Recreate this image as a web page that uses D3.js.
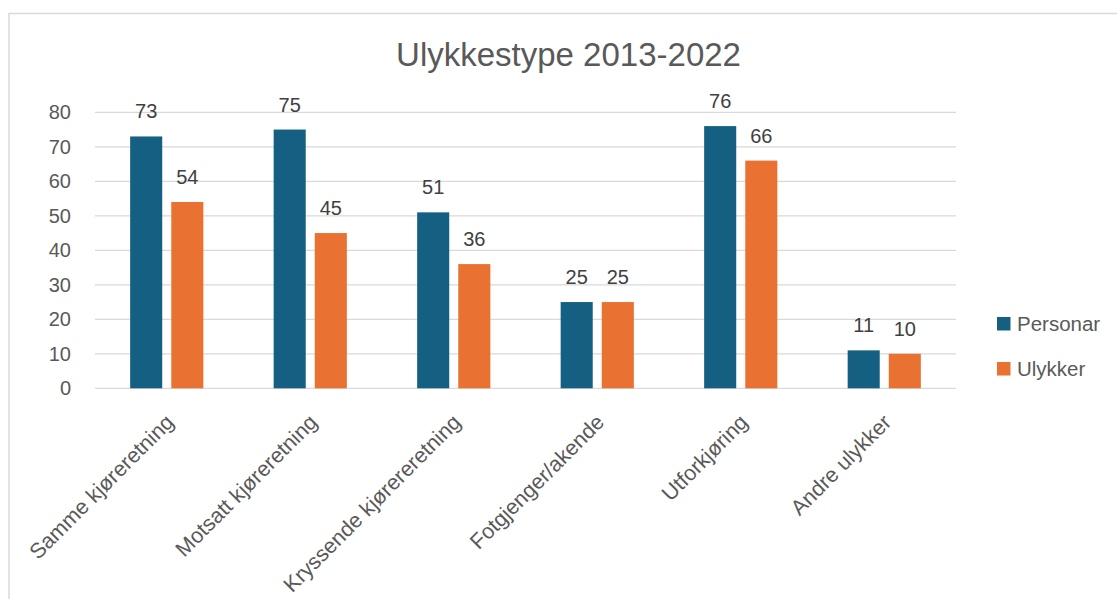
<!DOCTYPE html>
<html>
<head>
<meta charset="utf-8">
<script src="https://cdn.jsdelivr.net/npm/d3@7"></script>
<style>
  html, body { margin: 0; padding: 0; background: #fff; }
  svg { display: block; font-family: "Liberation Sans", Arial, sans-serif; }
</style>
</head>
<body>
<svg id="chart" width="1117" height="599"></svg>
<script>
const title = "Ulykkestype 2013-2022";
const categories = ["Samme kjøreretning", "Motsatt kjøreretning", "Kryssende kjørereretning", "Fotgjenger/akende", "Utforkjøring", "Andre ulykker"];
const seriesNames = ["Personar", "Ulykker"];
const personar = [73, 75, 51, 25, 76, 11];
const ulykker = [54, 45, 36, 25, 66, 10];
const yTicks = [0, 10, 20, 30, 40, 50, 60, 70, 80];
const colors = ["#156082", "#E97132"];

const seriesValues = [personar, ulykker];
const textColor = "#595959";
const svg = d3.select("#chart");

// chart frame
svg.append("rect")
  .attr("x", 9).attr("y", 13.5)
  .attr("width", 1200).attr("height", 700)
  .attr("fill", "#fff").attr("stroke", "#d9d9d9").attr("stroke-width", 1.5);

const plotLeft = 95, plotRight = 956, plotTop = 112.3, plotBottom = 388.3;

const y = d3.scaleLinear().domain([0, 80]).range([plotBottom, plotTop]);
const x0 = d3.scaleBand().domain(categories).range([plotLeft, plotRight])
  .paddingInner(0.49).paddingOuter(0.245);
const x1 = d3.scaleBand().domain(seriesNames).range([0, x0.bandwidth()]).paddingInner(0.22);

// gridlines
svg.append("g").selectAll("line").data(yTicks).join("line")
  .attr("x1", plotLeft).attr("x2", plotRight)
  .attr("y1", d => y(d)).attr("y2", d => y(d))
  .attr("stroke", "#d9d9d9").attr("stroke-width", 1.3);

// y axis labels
const yAxis = d3.axisLeft(y).tickValues(yTicks).tickSize(0).tickPadding(0);
const yg = svg.append("g").attr("transform", `translate(71,0)`).call(yAxis);
yg.select(".domain").remove();
yg.selectAll("text").attr("fill", textColor).style("font-size", "20px")
  .style("font-family", "'Liberation Sans', Arial, sans-serif");

// bars
const groups = svg.append("g").selectAll("g").data(categories).join("g")
  .attr("transform", d => `translate(${x0(d)},0)`);

groups.selectAll("rect")
  .data((c, i) => seriesNames.map((s, j) => ({ s, j, v: seriesValues[j][i] })))
  .join("rect")
  .attr("x", d => x1(d.s))
  .attr("width", x1.bandwidth())
  .attr("y", d => y(d.v))
  .attr("height", d => y(0) - y(d.v))
  .attr("fill", d => colors[d.j]);

groups.selectAll("text.val")
  .data((c, i) => seriesNames.map((s, j) => ({ s, j, v: seriesValues[j][i] })))
  .join("text")
  .attr("class", "val")
  .attr("x", d => x1(d.s) + x1.bandwidth() / 2)
  .attr("y", d => y(d.v) - 18)
  .attr("text-anchor", "middle")
  .attr("fill", "#404040")
  .style("font-size", "20px")
  .text(d => d.v);

// x axis category labels
const xAxis = d3.axisBottom(x0).tickSize(0).tickPadding(0);
const xg = svg.append("g").attr("transform", `translate(0,${plotBottom})`).call(xAxis);
xg.select(".domain").remove();
xg.selectAll("text")
  .attr("fill", textColor)
  .style("font-size", "21.5px")
  .style("font-family", "'Liberation Sans', Arial, sans-serif")
  .attr("text-anchor", "end")
  .attr("y", 0).attr("dy", "0.35em")
  .attr("transform", "translate(3,30) rotate(-45)");

// title
svg.append("text")
  .attr("x", 568.5).attr("y", 66)
  .attr("text-anchor", "middle")
  .attr("fill", textColor)
  .style("font-size", "33px")
  .text(title);

// legend
const legend = svg.append("g").selectAll("g").data(seriesNames).join("g")
  .attr("transform", (d, i) => `translate(997,${317 + i * 45})`);
legend.append("rect").attr("width", 13.5).attr("height", 13.5)
  .attr("fill", (d, i) => colors[i]);
legend.append("text").attr("x", 20).attr("y", 14)
  .attr("fill", textColor).style("font-size", "20.5px")
  .text(d => d);
</script>
</body>
</html>
